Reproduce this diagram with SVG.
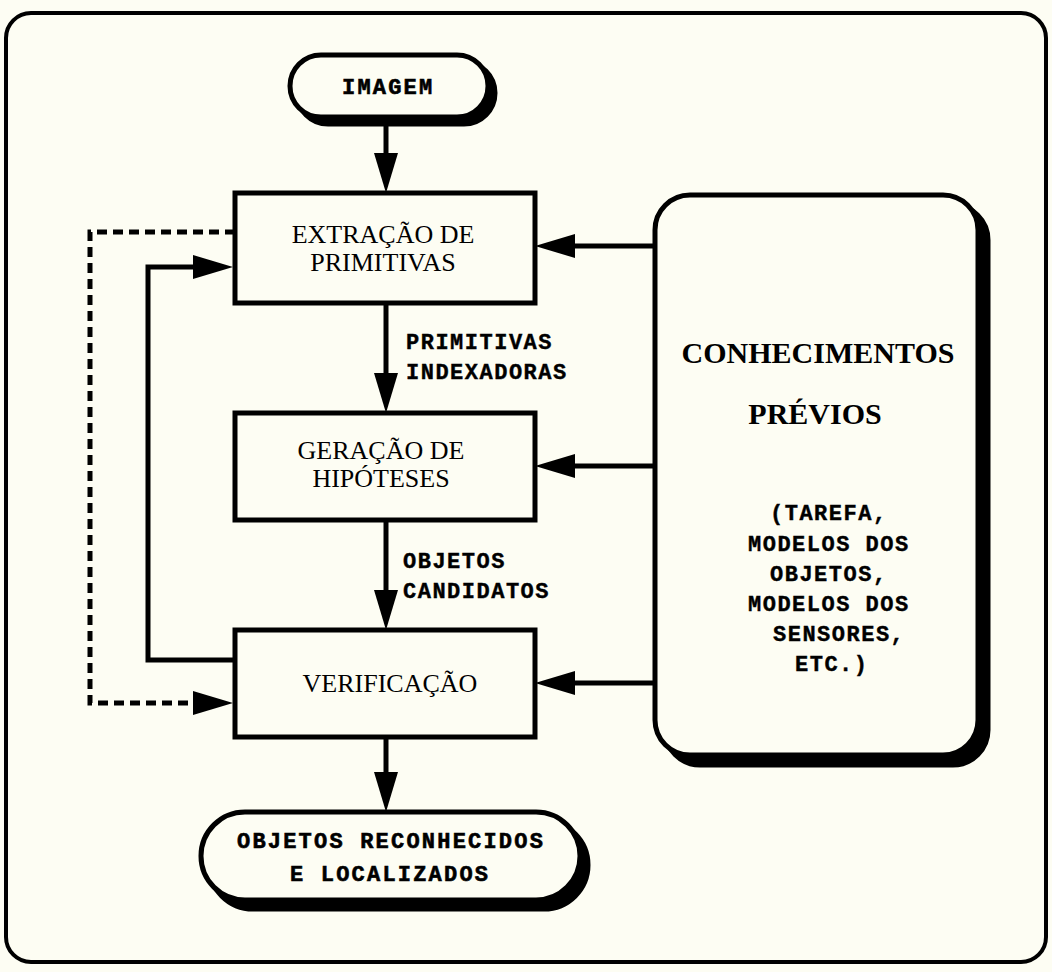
<svg xmlns="http://www.w3.org/2000/svg" width="1052" height="972" viewBox="0 0 1052 972">
  <style>
    .bg { fill: #fdfdf3; }
    .frame { fill: none; stroke: #000; stroke-width: 4; }
    .box { fill: #fdfdf3; stroke: #000; stroke-width: 5; }
    .shadow { fill: #000; stroke: #000; stroke-width: 5; }
    .line { fill: none; stroke: #000; stroke-width: 5; }
    .dash { fill: none; stroke: #000; stroke-width: 5; stroke-dasharray: 10 6; }
    .serif { font-family: "Liberation Serif", "Times New Roman", serif; font-size: 26px; fill: #000; }
    .serifb { font-family: "Liberation Serif", "Times New Roman", serif; font-size: 30px; font-weight: bold; fill: #000; }
    .mono { font-family: "Liberation Mono", "Courier New", monospace; font-size: 22px; font-weight: bold; letter-spacing: 1.5px; fill: #000; stroke: #000; stroke-width: 0.4; }
    .pill { font-family: "Liberation Mono", "Courier New", monospace; font-size: 22px; font-weight: bold; letter-spacing: 2.2px; fill: #000; stroke: #000; stroke-width: 0.6; }
  </style>
  <defs>
    <marker id="arrow" viewBox="0 0 40 24" markerWidth="40" markerHeight="24" refX="30" refY="12" orient="auto" markerUnits="userSpaceOnUse">
      <polygon points="0,0 40,12 0,24" fill="#000"/>
    </marker>
  </defs>

  <rect class="bg" x="0" y="0" width="1052" height="972"/>
  <rect class="frame" x="6" y="13" width="1040" height="949" rx="25" ry="25"/>

  <!-- connectors -->
  <g id="connectors">
    <!-- main vertical flow -->
    <line class="line" x1="386" y1="118" x2="386" y2="183" marker-end="url(#arrow)"/>
    <line class="line" x1="386" y1="303" x2="386" y2="403" marker-end="url(#arrow)"/>
    <line class="line" x1="386" y1="520" x2="386" y2="620" marker-end="url(#arrow)"/>
    <line class="line" x1="386" y1="737" x2="386" y2="802" marker-end="url(#arrow)"/>
    <!-- prior knowledge into each stage -->
    <line class="line" x1="655" y1="246" x2="545" y2="246" marker-end="url(#arrow)"/>
    <line class="line" x1="655" y1="466" x2="545" y2="466" marker-end="url(#arrow)"/>
    <line class="line" x1="655" y1="683" x2="545" y2="683" marker-end="url(#arrow)"/>
    <!-- feedback loop from verification back to extraction -->
    <polyline class="line" points="235,660 148,660 148,267 223,267" marker-end="url(#arrow)"/>
    <!-- dashed loop from extraction to verification -->
    <polyline class="dash" points="235,232 90,232 90,703 223,703" marker-end="url(#arrow)"/>
  </g>

  <!-- IMAGEM -->
  <g id="imagem">
    <rect class="shadow" x="297" y="62" width="198" height="62" rx="31" ry="31"/>
    <rect class="box" x="290" y="55" width="198" height="62" rx="31" ry="31"/>
    <text class="pill" x="342" y="94">IMAGEM</text>
  </g>

  <!-- EXTRAÇÃO DE PRIMITIVAS -->
  <g id="extracao">
    <rect class="box" x="235" y="193" width="300" height="110"/>
    <text class="serif" x="383" y="243" text-anchor="middle">EXTRAÇÃO DE</text>
    <text class="serif" x="383" y="271" text-anchor="middle">PRIMITIVAS</text>
  </g>

  <!-- label between extraction and hypothesis generation -->
  <g id="label-primitivas">
    <text class="mono" x="406" y="349">PRIMITIVAS</text>
    <text class="mono" x="406" y="379">INDEXADORAS</text>
  </g>

  <!-- GERAÇÃO DE HIPÓTESES -->
  <g id="geracao">
    <rect class="box" x="235" y="413" width="300" height="107"/>
    <text class="serif" x="381" y="459" text-anchor="middle">GERAÇÃO DE</text>
    <text class="serif" x="381" y="487" text-anchor="middle">HIPÓTESES</text>
  </g>

  <!-- label between hypothesis generation and verification -->
  <g id="label-objetos">
    <text class="mono" x="403" y="568">OBJETOS</text>
    <text class="mono" x="403" y="598">CANDIDATOS</text>
  </g>

  <!-- VERIFICAÇÃO -->
  <g id="verificacao">
    <rect class="box" x="235" y="630" width="300" height="107"/>
    <text class="serif" x="390" y="692" text-anchor="middle">VERIFICAÇÃO</text>
  </g>

  <!-- OBJETOS RECONHECIDOS E LOCALIZADOS -->
  <g id="resultado">
    <rect class="shadow" x="209" y="821" width="379" height="88" rx="44" ry="44"/>
    <rect class="box" x="201" y="812" width="379" height="88" rx="44" ry="44"/>
    <text class="pill" x="237" y="848">OBJETOS RECONHECIDOS</text>
    <text class="pill" x="290" y="881">E LOCALIZADOS</text>
  </g>

  <!-- CONHECIMENTOS PRÉVIOS -->
  <g id="conhecimentos">
    <rect class="shadow" x="665" y="205" width="323" height="560" rx="35" ry="35"/>
    <rect class="box" x="655" y="195" width="323" height="560" rx="35" ry="35"/>
    <text class="serifb" x="818" y="363" text-anchor="middle">CONHECIMENTOS</text>
    <text class="serifb" x="815" y="424" text-anchor="middle">PRÉVIOS</text>
    <text class="mono" x="770" y="520">(TAREFA,</text>
    <text class="mono" x="748" y="551">MODELOS DOS</text>
    <text class="mono" x="770" y="581">OBJETOS,</text>
    <text class="mono" x="748" y="611">MODELOS DOS</text>
    <text class="mono" x="773" y="641">SENSORES,</text>
    <text class="mono" x="795" y="671">ETC.)</text>
  </g>
</svg>
